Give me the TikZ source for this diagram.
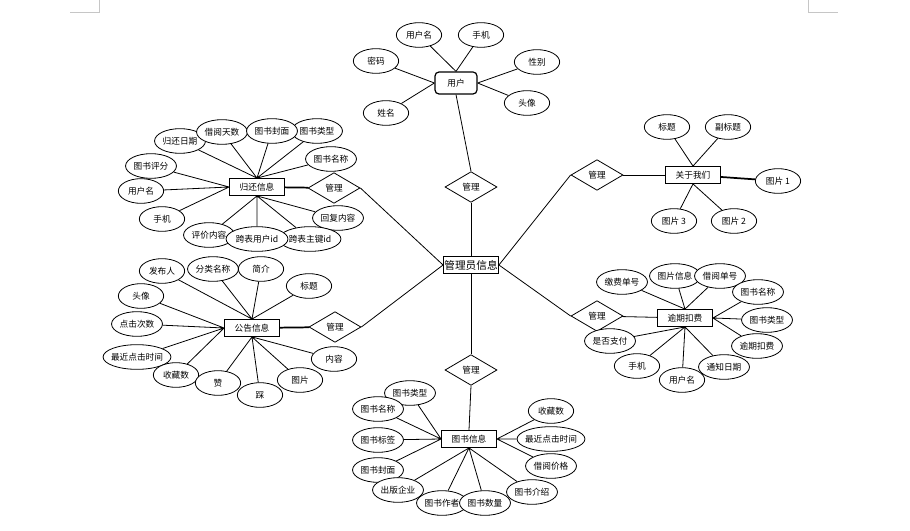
\documentclass[tikz,border=0pt]{standalone}
\usepackage{fontspec}
\setmainfont{Noto Sans CJK SC}
\usetikzlibrary{shapes.geometric}

\tikzset{
  attr/.style={ellipse, draw, fill=white, line width=0.6pt, inner sep=0.5pt,
               minimum width=34pt, minimum height=18.5pt, font=\fontsize{6.5}{7}\selectfont},
  wideattr/.style={attr, inner xsep=-1.5pt},
  entity/.style={rectangle, draw, fill=white, line width=0.9pt, inner sep=1pt,
                 minimum width=41pt, minimum height=12.5pt, font=\fontsize{6.5}{7}\selectfont},
  rel/.style={diamond, draw, fill=white, line width=0.6pt, inner sep=0pt,
              minimum width=39pt, minimum height=23pt, font=\fontsize{6.5}{7}\selectfont},
  link/.style={line width=0.6pt},
  thicklink/.style={line width=1.3pt}
}

\begin{document}
\begin{tikzpicture}[x=0.75pt, y=-0.75pt]
  \useasboundingbox (0,0) rectangle (910,531);
  % page corner marks
  \draw[gray!45, line width=0.6pt] (99,0) -- (99,12) -- (70,12);
  \draw[gray!45, line width=0.6pt] (808,0) -- (808,12) -- (838,12);

  % centre
  \node[entity, inner xsep=0.5pt, font=\fontsize{8}{9}\selectfont] (adm) at (471,265) {管理员信息};
  \node[rel] (gl1) at (471,187) {管理};
  \node[rel] (gl2) at (334,188) {管理};
  \node[rel] (gl3) at (597,175) {管理};
  \node[rel] (gl4) at (335,327) {管理};
  \node[rel] (gl5) at (597,316) {管理};
  \node[rel] (gl6) at (471,370) {管理};

  % user
  \node[entity, rounded corners=3pt, minimum width=31.5pt, minimum height=16.5pt] (yh) at (456,83) {用户};
  \node[attr] (yhm) at (419,35) {用户名};
  \node[attr] (yhsj) at (481,35) {手机};
  \node[attr] (mm) at (376,61) {密码};
  \node[attr] (xb) at (537,62) {性别};
  \node[attr] (xm) at (386,113) {姓名};
  \node[attr] (tx) at (527,103) {头像};

  % return info
  \node[entity] (gh) at (257,187) {归还信息};
  \node[attr] (ghrq) at (180,141) {归还日期};
  \node[attr] (jyts) at (222,132) {借阅天数};
  \node[attr] (ghlx) at (317,131) {图书类型};
  \node[attr] (ghfm) at (272,131) {图书封面};
  \node[attr] (ghmc) at (331,159) {图书名称};
  \node[attr] (tspf) at (151,166) {图书评分};
  \node[attr] (ghyhm) at (141,191) {用户名};
  \node[attr] (ghsj) at (162,219) {手机};
  \node[attr] (hfnr) at (338,218) {回复内容};
  \node[attr] (pjnr) at (209,235) {评价内容};
  \node[attr] (kbzj) at (310,239) {跨表主键id};
  \node[attr] (kbyh) at (257,239) {跨表用户id};

  % about us
  \node[entity] (gy) at (693,175) {关于我们};
  \node[attr] (gybt) at (667,127) {标题};
  \node[attr] (fbt) at (728,127) {副标题};
  \node[attr] (tp1) at (778,181) {图片 1};
  \node[attr] (tp3) at (674,221) {图片 3};
  \node[attr] (tp2) at (734,221) {图片 2};

  % notice info
  \node[entity] (gg) at (252,328) {公告信息};
  \node[attr] (fbr) at (162,271) {发布人};
  \node[attr] (flmc) at (213,269) {分类名称};
  \node[attr] (jj) at (261,269) {简介};
  \node[attr] (ggbt) at (309,286) {标题};
  \node[attr] (ggtx) at (141,296) {头像};
  \node[attr] (djcs) at (137,324) {点击次数};
  \node[wideattr] (zjdj) at (137,357) {最近点击时间};
  \node[attr] (ggsc) at (176,375) {收藏数};
  \node[attr] (zan) at (218,383) {赞};
  \node[attr] (cai) at (260,395) {踩};
  \node[attr] (ggtp) at (300,380) {图片};
  \node[attr] (nr) at (334,359) {内容};

  % overdue fee
  \node[entity] (yq) at (685,318) {逾期扣费};
  \node[attr] (jfdh) at (622,282) {缴费单号};
  \node[attr] (tpxx) at (675,276) {图片信息};
  \node[attr] (jydh) at (720,276) {借阅单号};
  \node[attr] (yqmc) at (758,292) {图书名称};
  \node[attr] (yqlx) at (767,320) {图书类型};
  \node[attr] (yqkf) at (757,346) {逾期扣费};
  \node[attr] (sfzf) at (610,341) {是否支付};
  \node[attr] (yqsj) at (637,366) {手机};
  \node[attr] (tzrq) at (724,367) {通知日期};
  \node[attr] (yqyhm) at (682,380) {用户名};

  % book info
  \node[entity] (ts) at (469,439) {图书信息};
  \node[attr] (tslx) at (410,393) {图书类型};
  \node[attr] (tsmc) at (378,409) {图书名称};
  \node[attr] (tsbq) at (378,440) {图书标签};
  \node[attr] (tsfm) at (378,470) {图书封面};
  \node[attr] (cbqy) at (398,490) {出版企业};
  \node[attr] (tszz) at (442,503) {图书作者};
  \node[attr] (tssl) at (485,503) {图书数量};
  \node[attr] (tsjs) at (532,492) {图书介绍};
  \node[attr] (jyjg) at (551,466) {借阅价格};
  \node[wideattr] (tszj) at (551,439) {最近点击时间};
  \node[attr] (tssc) at (551,411) {收藏数};

  % connectors: user
  \draw[link] (yhm) -- (yh.north) (yhsj) -- (yh.north);
  \draw[link] (mm) -- (yh.west) (xm) -- (yh.west);
  \draw[link] (xb) -- (yh.east) (tx) -- (yh.east);
  \draw[link] (yh.south) -- (gl1.north);
  \draw[link] (gl1.south) -- (adm.north);

  % connectors: return info
  \draw[link] (ghrq) -- (gh.north) (jyts) -- (gh.north) (ghfm) -- (gh.north)
              (ghlx) -- (gh.north) (ghmc) -- (gh.north);
  \draw[link] (tspf) -- (gh.west) (ghyhm) -- (gh.west) (ghsj) -- (gh.west);
  \draw[link] (pjnr) -- (gh.south) (kbyh) -- (gh.south) (kbzj) -- (gh.south) (hfnr) -- (gh.south);
  \draw[thicklink] (gh) -- (gl2);
  \draw[link] (gl2.east) -- (adm.west);

  % connectors: about us
  \draw[link] (gybt) -- (gy.north) (fbt) -- (gy.north);
  \draw[link] (tp3) -- (gy.south) (tp2) -- (gy.south);
  \draw[thicklink] (gy) -- (tp1);
  \draw[link] (gl3) -- (gy);
  \draw[link] (gl3.west) -- (adm.east);

  % connectors: notice info
  \draw[link] (fbr) -- (gg.north) (flmc) -- (gg.north) (jj) -- (gg.north) (ggbt) -- (gg.north);
  \draw[link] (ggtx) -- (gg.west) (djcs) -- (gg.west) (zjdj) -- (gg.west) (ggsc) -- (gg.west);
  \draw[link] (zan) -- (gg.south) (cai) -- (gg.south) (ggtp) -- (gg.south) (nr) -- (gg.south);
  \draw[thicklink] (gg) -- (gl4);
  \draw[link] (gl4.east) -- (adm.west);

  % connectors: overdue fee
  \draw[link] (jfdh) -- (yq.north) (tpxx) -- (yq.north) (jydh) -- (yq.north);
  \draw[link] (yqmc) -- (yq.east) (yqlx) -- (yq.east) (yqkf) -- (yq.east);
  \draw[link] (sfzf) -- (yq.south) (yqsj) -- (yq.south) (yqyhm) -- (yq.south) (tzrq) -- (yq.south);
  \draw[link] (gl5) -- (yq);
  \draw[link] (gl5.west) -- (adm.east);

  % connectors: book info
  \draw[link] (tslx) -- (ts.west) (tsmc) -- (ts.west) (tsbq) -- (ts.west) (tsfm) -- (ts.west);
  \draw[link] (cbqy) -- (ts.south) (tszz) -- (ts.south) (tssl) -- (ts.south) (tsjs) -- (ts.south);
  \draw[link] (tssc) -- (ts.east) (tszj) -- (ts.east) (jyjg) -- (ts.east);
  \draw[link] (adm.south) -- (gl6.north);
  \draw[link] (gl6.south) -- (ts.north);
\end{tikzpicture}
\end{document}
